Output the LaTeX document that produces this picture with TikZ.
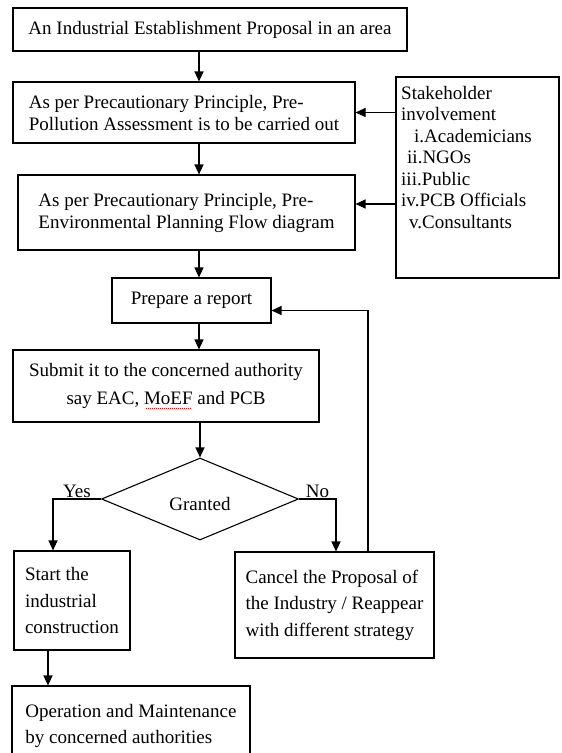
\documentclass[tikz,border=0pt]{standalone}
\usepackage{fontspec}
\setmainfont{Liberation Serif}
\usetikzlibrary{arrows.meta,shapes.geometric}

% red dotted spell-check mark under a word
\newcommand{\spellmark}[1]{\setbox0\hbox{#1}\rlap{#1}{\color{red}\leaders\hbox to 2pt{\hss\rule[-4pt]{1pt}{0.7pt}\hss}\hskip\wd0}}

\tikzset{
  stepbox/.style={draw, line width=1.1pt, align=left, inner sep=0pt,
    font=\fontsize{19}{22}\selectfont},
  wide/.style={font=\fontsize{19}{26.5}\selectfont},
  decision/.style={diamond, draw, line width=1.1pt, inner sep=0pt, aspect=2.4,
    font=\fontsize{19}{22}\selectfont},
  flow/.style={->, line width=1.1pt},
  answer/.style={above, inner sep=1pt, font=\fontsize{19}{22}\selectfont}
}

\begin{document}
\begin{tikzpicture}[x=1pt, y=1pt, >={Triangle[length=10pt,width=9pt]}]
    \clip (0,0) rectangle (562,-753);

    % main column of arrows
    \coordinate (col) at (199,0);

    % Boxes
    \node[stepbox, align=center, minimum width=394pt, minimum height=43pt] (prop) at (210,-29.5)
        {An Industrial Establishment Proposal in an area};
    \node[stepbox, minimum width=342pt, minimum height=61pt] (pollution) at (184,-112.5)
        {As per Precautionary Principle, Pre-\\Pollution Assessment is to be carried out};
    \node[stepbox, minimum width=337pt, minimum height=75pt] (planning) at (186.5,-212.5)
        {As per Precautionary Principle, Pre-\\Environmental Planning Flow diagram};
    \node[stepbox, minimum width=163pt, minimum height=201pt] (stake) at (477.5,-177.5) {};
    \node[anchor=north west, align=left, inner sep=0pt, font=\fontsize{19}{21.5}\selectfont] (stakelist) at (401,-86)
        {Stakeholder\\involvement\\\hspace*{13pt}i.Academicians\\\hspace*{6pt}ii.NGOs\\iii.Public\\iv.PCB Officials\\\hspace*{8pt}v.Consultants};
    \node[stepbox, align=center, minimum width=159pt, minimum height=45pt] (report) at (191.5,-300.5)
        {Prepare a report};
    \node[stepbox, wide, align=center, font=\fontsize{19}{28}\selectfont, minimum width=306pt, minimum height=72pt] (submit) at (166,-386)
        {Submit it to the concerned authority\\say EAC, \spellmark{MoEF} and PCB};
    \node[decision, minimum width=197pt, minimum height=82pt] (granted) at (200,-499)
        {\raisebox{-5pt}[\height][\depth]{Granted}};
    \node[stepbox, wide, minimum width=116pt, minimum height=99pt] (start) at (72,-600.5)
        {Start the\\industrial\\construction};
    \node[stepbox, wide, minimum width=199pt, minimum height=106pt] (cancel) at (334.5,-605)
        {Cancel the Proposal of\\the Industry / Reappear\\with different strategy};
    \node[stepbox, wide, minimum width=238pt, minimum height=80pt] (ops) at (131,-726)
        {Operation and Maintenance\\by concerned authorities};

    % Main flow
    \draw[flow] (prop.south -| col) -- (pollution.north -| col);
    \draw[flow] (pollution.south -| col) -- (planning.north -| col);
    \draw[flow] (planning.south -| col) -- (report.north -| col);
    \draw[flow] (report.south -| col) -- (submit.north -| col);
    \draw[flow] (submit.south -| granted.north) -- (granted.north);

    % Stakeholder inputs
    \draw[flow] (stake.west |- pollution.east) -- (pollution.east);
    \draw[flow] (stake.west |- planning.east) ++(0,8.5) -- ([yshift=8.5pt]planning.east);

    % Decision
    \draw[flow] (granted.west) -| node[answer, pos=0.25] {Yes} ([xshift=-19pt]start.north);
    \draw[flow] (granted.east) -| node[answer, pos=0.25] {No} ([xshift=1.5pt]cancel.north);
    \draw[flow] ([xshift=33.5pt]cancel.north) |- ([yshift=-10pt]report.east);
    \draw[flow] ([xshift=-24pt]start.south) -- ([xshift=-24pt]start.south |- ops.north);
\end{tikzpicture}
\end{document}
